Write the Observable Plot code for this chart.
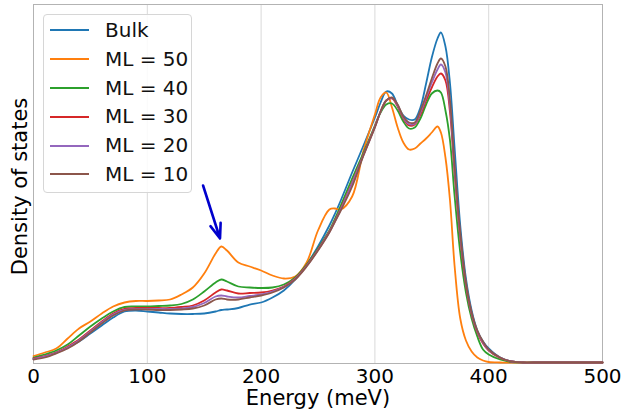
<!DOCTYPE html>
<html>
<head>
<meta charset="utf-8">
<script src="https://cdn.jsdelivr.net/npm/d3@7"></script>
<script src="https://cdn.jsdelivr.net/npm/@observablehq/plot@0.6"></script>
<style>
  html, body { margin: 0; padding: 0; background: #fff; }
  #wrap { position: relative; width: 624px; height: 415px; font-family: "DejaVu Sans", sans-serif; }
  #wrap svg { display: block; }
  #legend {
    position: absolute; left: 43px; top: 14px; width: 141px;
    border: 1px solid #d6d6d6; border-radius: 4px; background: rgba(255,255,255,0.85);
    padding: 1px 0 3px 6px; box-sizing: content-box;
  }
  .row { display: flex; align-items: center; height: 28.8px; line-height: 28.8px; font-size: 20px; color: #111; white-space: nowrap; }
  .swatch { display: block; width: 39px; height: 2px; margin-right: 16px; flex: none; }
</style>
</head>
<body>
<div id="wrap"><div id="legend"></div></div>
<script>
const energy = [0,10,20,30,40,50,60,70,80,90,100,110,120,130,140,150,160,165,170,180,190,200,210,220,230,240,250,260,265,270,280,290,300,305,310,315,320,325,330,335,340,345,350,355,358,362,366,370,375,380,385,390,395,400,410,420,430,440,460,500];

const bulk = [3.5,6,10,15,21,29,37,45,51,52,51,50,49,48.5,48.5,49,51,52.5,53,54.5,58,60,65,72,83,98,116,137,149,162,190,217,245,260,271,269,257,247,243,243,255,279,305,324,330,316,279,215,137,84,52,32,21,14,5,1,0,0,0,0];
const ml50 = [6.5,10,14,24,34,41,49,56,60,61.5,61.5,62,63,68,75,89,109,116,112,100,96,92,87,84,86,100,132,153,154,153,166,212,248,265,270,255,235,220,213,214,219,224,230,236,230,205,162,97,44,22,11,5,2,0.5,0,0,0,0,0,0];
const ml40 = [5,8,12,18,27,36,44,51,55.5,56,56,56.5,57,58.5,63,71,80,83,81,76,75,74.5,75,78,85,98,114,132,144,157,184,210,237,250,258,259,252,241,234,235,244,258,269,272,270,252,222,167,110,70,44,26,13,8,3,0.5,0,0,0,0];
const ml30 = [4,6.5,10,16,23,32,41,49,53.5,54.5,54.5,54.5,54.5,55.5,57,62,70,73,72,69,69.5,70,72,76,84,97,113,131,142,154,180,208,236,251,262,264,256,244,237,238,248,262,275,286,289,282,250,190,124,77,48,30,19,12,4.5,1,0,0,0,0];
const ml20 = [3.5,6,9.5,15,22,31,40,48,52.5,53.5,53.5,53.5,53.5,54,55.5,59.5,66,67,66,65,66.5,68,71,75.5,83.5,96.5,112.5,130.5,141.5,153,179,207.5,235.5,251,262,264.5,257,245,238.5,239,250,265,280,293,298,290,256,194,127,79,49,31,20,12.5,5,1,0,0,0,0];
const ml10 = [3,5,9,14,21,30,39,47,52,53,53,52.5,52.5,53,54,57,63,64,63,63,65,67,70,75,83,96,112,130,141,152,176,207,235,251,262,265,258,246,240,240,252,267,284,299,304,296,262,197,130,80,50,32,21,13,5,1,0,0,0,0];

const seriesNames = ["Bulk", "ML = 50", "ML = 40", "ML = 30", "ML = 20", "ML = 10"];
const seriesColors = ["#1f77b4", "#ff7f0e", "#2ca02c", "#d62728", "#9467bd", "#8c564b"];
const xTicks = [0, 100, 200, 300, 400, 500];
const arrowEnergy = [149, 163.9];
const arrowDensity = [177, 124];

const seriesValues = [bulk, ml50, ml40, ml30, ml20, ml10];
const rows = seriesNames.flatMap((name, i) =>
  energy.map((e, j) => ({ name, e, d: seriesValues[i][j] })));

const chart = Plot.plot({
  width: 624,
  height: 415,
  marginLeft: 33,
  marginRight: 22,
  marginTop: 4,
  marginBottom: 52,
  style: { fontFamily: "DejaVu Sans", background: "white", color: "#000" },
  x: { domain: [0, 500] },
  y: { domain: [-1, 358], axis: null },
  color: { domain: seriesNames, range: seriesColors },
  marks: [
    Plot.gridX(xTicks, { stroke: "#d9d9d9", strokeOpacity: 1, strokeWidth: 1 }),
    Plot.frame({ stroke: "#b3b3b3", strokeWidth: 1 }),
    Plot.line(rows, { x: "e", y: "d", z: "name", stroke: "name", curve: "catmull-rom", strokeWidth: 1.8 }),
    Plot.arrow([0], {
      x1: () => arrowEnergy[0], y1: () => arrowDensity[0],
      x2: () => arrowEnergy[1], y2: () => arrowDensity[1],
      stroke: "#0000cd", strokeWidth: 2.6, headLength: 9, headAngle: 40
    }),
    Plot.axisX(xTicks, { tickSize: 0, tickPadding: 5, fontSize: 20, label: null, tickFormat: d => String(d) }),
    Plot.text(["Energy (meV)"], { text: d => d, frameAnchor: "bottom", lineAnchor: "middle", textAnchor: "middle", dy: 35, fontSize: 21, fill: "#000" }),
    Plot.text(["Density of states"], { text: d => d, frameAnchor: "left", textAnchor: "middle", lineAnchor: "middle", rotate: -90, dx: -13, dy: 2.5, fontSize: 21, fill: "#000" })
  ]
});

const wrap = document.getElementById("wrap");
wrap.insertBefore(chart, wrap.firstChild);

const legend = document.getElementById("legend");
seriesNames.forEach((name, i) => {
  const row = document.createElement("div");
  row.className = "row";
  const sw = document.createElement("span");
  sw.className = "swatch";
  sw.style.background = seriesColors[i];
  const label = document.createElement("span");
  label.textContent = name;
  row.appendChild(sw);
  row.appendChild(label);
  legend.appendChild(row);
});
</script>
</body>
</html>
